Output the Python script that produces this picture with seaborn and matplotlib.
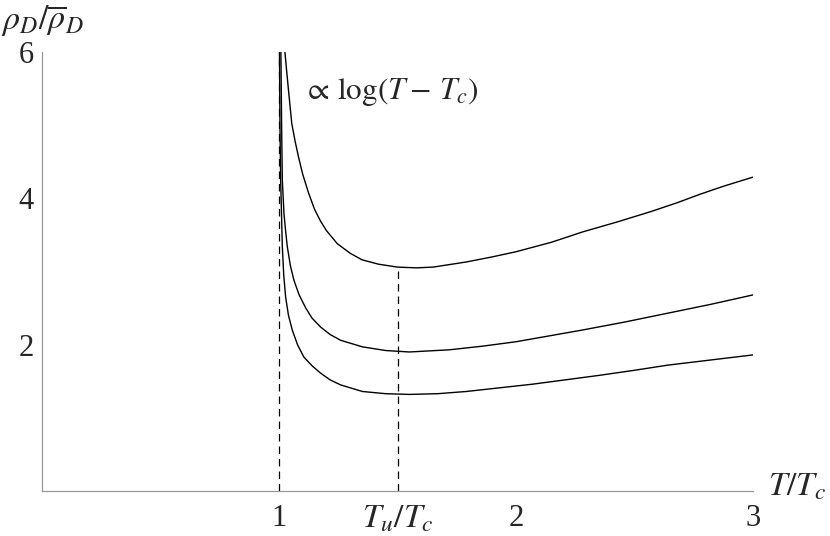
import matplotlib
matplotlib.use("Agg")
import matplotlib.pyplot as plt
import seaborn as sns

# values
upper_T = [1.025, 1.032, 1.040, 1.054, 1.068, 1.082, 1.10, 1.124, 1.15, 1.175, 1.2,
           1.246, 1.3, 1.35, 1.42, 1.5, 1.58, 1.65, 1.79, 1.9, 2.0, 2.15, 2.28, 2.43,
           2.57, 2.68, 2.78, 2.88, 3.0]
upper_rho = [6.0, 5.75, 5.48, 5.02, 4.78, 4.57, 4.33, 4.08, 3.85, 3.69, 3.56,
             3.38, 3.25, 3.16, 3.10, 3.06, 3.05, 3.06, 3.13, 3.2, 3.27, 3.40, 3.54, 3.68,
             3.82, 3.94, 4.06, 4.17, 4.29]

middle_T = [1.008, 1.011, 1.014, 1.021, 1.028, 1.035, 1.048, 1.063, 1.085, 1.113, 1.14,
            1.176, 1.215, 1.26, 1.352, 1.45, 1.55, 1.72, 1.86, 2.0, 2.14, 2.28, 2.46,
            2.64, 2.82, 3.0]
middle_rho = [6.0, 5.0, 4.25, 3.79, 3.55, 3.34, 3.08, 2.88, 2.68, 2.50, 2.36,
              2.24, 2.14, 2.06, 1.97, 1.92, 1.90, 1.93, 1.98, 2.04, 2.12, 2.2, 2.31,
              2.43, 2.55, 2.68]

lower_T = [1.002, 1.004, 1.007, 1.014, 1.02, 1.028, 1.04, 1.056, 1.078, 1.105, 1.14,
           1.176, 1.215, 1.26, 1.352, 1.45, 1.55, 1.67, 1.79, 1.93, 2.07, 2.21, 2.35,
           2.5, 2.64, 2.82, 3.0]
lower_rho = [6.0, 5.0, 4.25, 3.34, 2.95, 2.65, 2.40, 2.20, 2.00, 1.83, 1.71,
             1.61, 1.52, 1.45, 1.36, 1.33, 1.32, 1.33, 1.36, 1.41, 1.46, 1.52, 1.58,
             1.65, 1.72, 1.79, 1.86]

Tc = 1.0
Tu = 1.5
rho_at_Tu = 3.06

xtick_pos = [1, 1.5, 2, 3]
xtick_labels = ["1", r"$T_u/T_c$", "2", "3"]
ytick_pos = [2, 4, 6]
ytick_labels = ["2", "4", "6"]

sns.set_theme(style="white")
plt.rcParams["font.family"] = ["Liberation Serif", "DejaVu Serif"]
plt.rcParams["mathtext.fontset"] = "stix"

fig = plt.figure(figsize=(8.3, 5.36), dpi=100)
ax = fig.add_axes([42 / 830, 45 / 536, 711 / 830, 439 / 536])

for xs, ys in [(upper_T, upper_rho), (middle_T, middle_rho), (lower_T, lower_rho)]:
    sns.lineplot(x=xs, y=ys, sort=False, estimator=None, color="black", lw=1.0, ax=ax)

ax.plot([Tc, Tc], [0, 6], color="black", lw=0.9, ls=(0, (6, 4)))
ax.plot([Tu, Tu], [0, rho_at_Tu], color="black", lw=0.9, ls=(0, (6, 4)))

ax.set_xlim(0, 3)
ax.set_ylim(0, 6)
ax.set_xticks(xtick_pos)
ax.set_xticklabels(xtick_labels)
ax.set_yticks(ytick_pos)
ax.set_yticklabels(ytick_labels)
ax.tick_params(direction="in", length=4, width=0.8, color="#999999", labelsize=22)
ax.tick_params(axis="x", pad=9)
ax.tick_params(axis="y", pad=6)
for lab in ax.get_xticklabels():
    if "T_u" in lab.get_text():
        lab.set_fontsize(24)

for s in ["top", "right"]:
    ax.spines[s].set_visible(False)
for s in ["left", "bottom"]:
    ax.spines[s].set_color("#999999")
    ax.spines[s].set_linewidth(0.9)
ax.patch.set_visible(False)

ax.text(1.1, 5.45, r"$\propto\,\log(T-\,T_c)$", fontsize=22.5, va="center", ha="left")
fig.text(1 / 830, 1 - 20 / 536, r"$\rho_D/\overline{\rho}_D$", fontsize=24.5, va="center", ha="left")
fig.text(768 / 830, 1 - 487 / 536, r"$T/T_c$", fontsize=24, va="center", ha="left")

fig.savefig("out.png", dpi=100)
